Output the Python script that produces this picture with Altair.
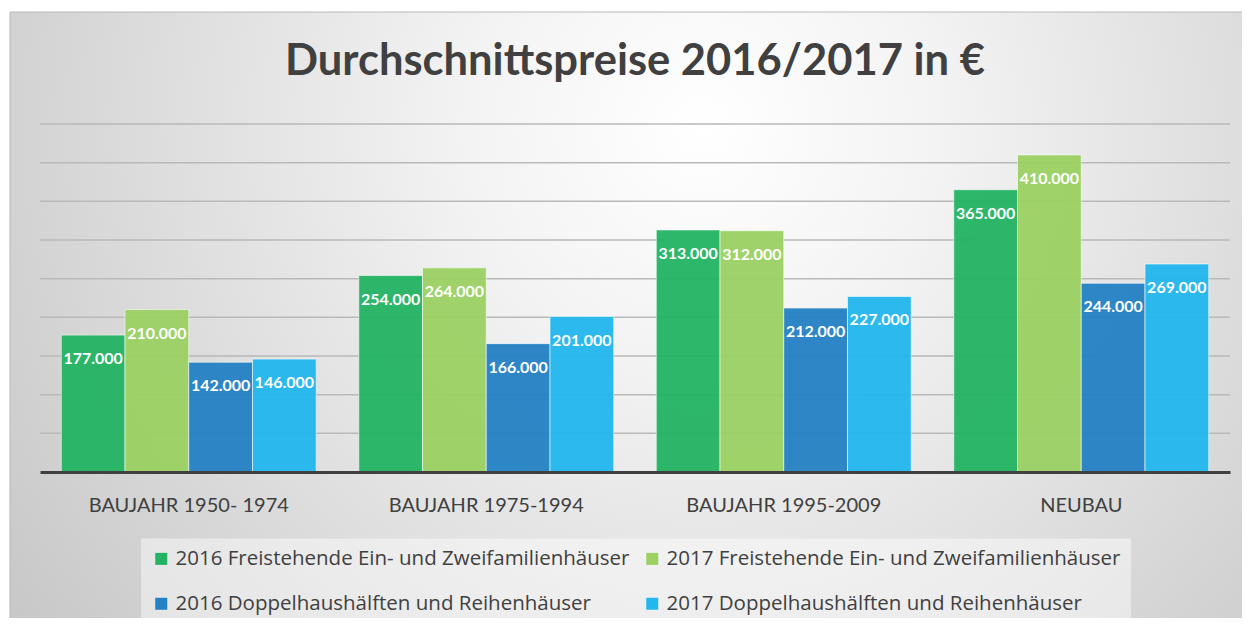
import altair as alt
import pandas as pd

categories = ["BAUJAHR 1950- 1974", "BAUJAHR 1975-1994", "BAUJAHR 1995-2009", "NEUBAU"]
series = [
    "2016 Freistehende Ein- und Zweifamilienhäuser",
    "2017 Freistehende Ein- und Zweifamilienhäuser",
    "2016 Doppelhaushälften und Reihenhäuser",
    "2017 Doppelhaushälften und Reihenhäuser",
]
values_2016_frei = [177000, 254000, 313000, 365000]
values_2017_frei = [210000, 264000, 312000, 410000]
values_2016_dop = [142000, 166000, 212000, 244000]
values_2017_dop = [146000, 201000, 227000, 269000]
colors = ["#23b463", "#9bd163", "#2481c4", "#22b7ee"]
grid_values = [50000, 100000, 150000, 200000, 250000, 300000, 350000, 400000, 450000]

all_values = [values_2016_frei, values_2017_frei, values_2016_dop, values_2017_dop]
rows = []
for s, vals in zip(series, all_values):
    for c, v in zip(categories, vals):
        rows.append({"cat": c, "series": s, "value": v,
                     "label": f"{v:,}".replace(",", ".")})
df = pd.DataFrame(rows)

FONT = "Lato"
W, H = 1190, 348

x_enc = alt.X("cat:N", sort=categories,
              scale=alt.Scale(paddingInner=0.143, paddingOuter=0.0715),
              axis=alt.Axis(title=None, ticks=False, labelAngle=0, labelFontSize=20,
                            labelColor="#404040", labelFont=FONT, labelPadding=23,
                            labelLimit=400,
                            domain=True, domainColor="#404040", domainWidth=3,
                            zindex=1, grid=False))
xo_enc = alt.XOffset("series:N", sort=series, scale=alt.Scale(paddingInner=0, paddingOuter=0))
y_scale = alt.Scale(domain=[0, 450000], nice=False, zero=True)

bg = alt.Chart(alt.Data(values=[{}])).mark_rect(
    fill=alt.RadialGradient(
        gradient="radial",
        stops=[alt.GradientStop(color="#ffffff", offset=0),
               alt.GradientStop(color="#f3f3f3", offset=0.25),
               alt.GradientStop(color="#c4c4c4", offset=0.95)],
        x1=0.55, y1=0.33, r1=0, x2=0.55, y2=0.33, r2=0.75),
    stroke="#b8b8b8", strokeWidth=1,
).encode(x=alt.value(-30), x2=alt.value(W + 40), y=alt.value(-112), y2=alt.value(H + 200))

grid = alt.Chart(pd.DataFrame({"g": grid_values})).mark_rule(
    color="#b9b9b9", strokeWidth=1.5
).encode(y=alt.Y("g:Q", scale=y_scale, axis=None))

bars = alt.Chart(df).mark_bar(
    opacity=0.95, stroke="#ffffff", strokeWidth=1, strokeOpacity=0.6
).encode(
    x=x_enc,
    xOffset=xo_enc,
    y=alt.Y("value:Q", scale=y_scale, axis=None),
    color=alt.Color("series:N", sort=series,
                    scale=alt.Scale(domain=series, range=colors),
                    legend=alt.Legend(title=None, orient="none", legendX=101, legendY=414.5,
                                      direction="horizontal",
                                      columns=2, symbolType="square", symbolSize=144,
                                      symbolStrokeWidth=0, symbolOpacity=1,
                                      labelFontSize=20.5, labelFont="Open Sans",
                                      labelColor="#404040",
                                      labelLimit=700, labelOffset=4, columnPadding=12,
                                      rowPadding=24, padding=10,
                                      fillColor="rgba(255,255,255,0.45)")),
)

labels = alt.Chart(df).mark_text(
    color="white", fontWeight="bold", fontSize=16, font=FONT, baseline="middle", dy=24
).encode(
    x=alt.X("cat:N", sort=categories),
    xOffset=xo_enc,
    y=alt.Y("value:Q", scale=y_scale),
    text="label:N",
)

chart = alt.layer(bg, grid, bars, labels).properties(
    width=W, height=H,
    title=alt.TitleParams("Durchschnittspreise 2016/2017 in €", fontSize=43.5, font=FONT,
                          fontWeight="bold", color="#404040", anchor="middle",
                          frame="group", baseline="alphabetic", offset=0, dy=107),
    autosize=alt.AutoSizeParams(type="none"),
    padding={"left": 32, "top": 116, "right": 12, "bottom": 146},
).configure_view(stroke=None).configure(background="white")

chart.save("out.html", embed_options={"renderer": "svg", "actions": False})
